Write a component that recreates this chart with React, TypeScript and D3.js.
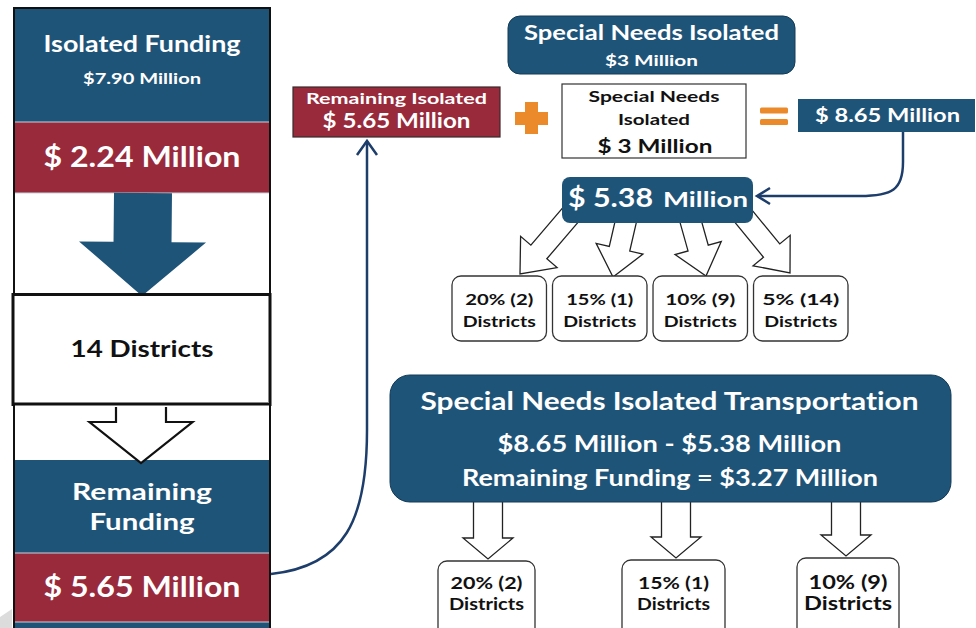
import React from "react";
import * as d3 from "d3";

// ---- content ----
const isolatedTitle = "Isolated Funding";
const isolatedTotal = "$7.90 Million";
const isolatedShare = "$ 2.24 Million";
const districtCount = "14 Districts";
const remainingTitle = ["Remaining", "Funding"];
const remainingFunding = "$ 5.65 Million";
const remainingIsolated = ["Remaining Isolated", "$ 5.65 Million"];
const specialNeedsTop = ["Special Needs Isolated", "$3 Million"];
const specialNeedsBox = ["Special Needs", "Isolated", "$ 3 Million"];
const combinedTotal = "$ 8.65 Million";
const allocated = ["$ 5.38", "Million"];
const transportLines = [
  "Special Needs Isolated Transportation",
  "$8.65 Million - $5.38 Million",
  "Remaining Funding = $3.27 Million",
];
const topPct = ["20%", "15%", "10%", "5%"];
const topCounts = [2, 1, 9, 14];
const bottomPct = ["20%", "15%", "10%"];
const bottomCounts = [2, 1, 9];

// ---- style / layout ----
const BLUE = "#1f5479";
const RED = "#982a3b";
const ORANGE = "#ea8a2b";
const LINE = "#1d3d6b";
const FONT = "Lato, 'Open Sans', 'DejaVu Sans', sans-serif";

type TP = { x: number; y: number; s: number; w?: number; fill?: string; children: React.ReactNode };
function T({ x, y, s, w, fill = "#fff", children }: TP) {
  return (
    <text
      x={x}
      y={y}
      fontSize={s}
      fontWeight={700}
      fontFamily={FONT}
      textAnchor="middle"
      fill={fill}
      textLength={w}
      lengthAdjust={w ? "spacingAndGlyphs" : undefined}
      style={{ fontVariantLigatures: "none", fontFeatureSettings: "'liga' 0, 'clig' 0" }}
    >
      {children}
    </text>
  );
}

const lineGen = d3.line<[number, number]>().curve(d3.curveLinearClosed);

function arrowPath(x0: number, y0: number, x1: number, y1: number, sw: number, hw: number, hl: number) {
  const dx = x1 - x0, dy = y1 - y0;
  const L = Math.hypot(dx, dy);
  const ux = dx / L, uy = dy / L;
  const px = -uy, py = ux;
  const bx = x1 - ux * hl, by = y1 - uy * hl;
  const pts: [number, number][] = [
    [x0 + (px * sw) / 2, y0 + (py * sw) / 2],
    [bx + (px * sw) / 2, by + (py * sw) / 2],
    [bx + (px * hw) / 2, by + (py * hw) / 2],
    [x1, y1],
    [bx - (px * hw) / 2, by - (py * hw) / 2],
    [bx - (px * sw) / 2, by - (py * sw) / 2],
    [x0 - (px * sw) / 2, y0 - (py * sw) / 2],
  ];
  return lineGen(pts) as string;
}

// top row of district boxes
const topBand = d3.scaleBand<number>().domain(d3.range(topPct.length)).range([452, 848]).paddingInner(0.06);
const topArrowStarts = [573, 628, 688, 740];
const topArrowTips: [number, number][] = [
  [520, 274],
  [613, 277],
  [706, 276],
  [790, 273],
];
const topTextW = [68, 67, 70, 77];

// bottom row
const bottomBoxes = [
  { x0: 438, x1: 535, y0: 561, s: 17, w1: 72, w2: 75 },
  { x0: 622, x1: 725, y0: 560, s: 17, w1: 71, w2: 73 },
  { x0: 797, x1: 899, y0: 558, s: 19, w1: 79, w2: 88 },
];
const bottomArrowX = [488, 676, 846];

export default function App() {
  const colL = 14, colR = 270, cx = 142;
  return (
    <svg
      width={976}
      height={628}
      viewBox="0 0 976 628"
      style={{ position: "absolute", left: 0, top: 0, background: "#fff" }}
    >
      <rect x={0} y={0} width={976} height={628} fill="#fff" />

      {/* ---------- left column ---------- */}
      <rect x={colL} y={8} width={colR - colL} height={114} fill={BLUE} />
      <rect x={colL} y={122} width={colR - colL} height={71} fill={RED} />
      <rect x={colL} y={460} width={colR - colL} height={93} fill={BLUE} />
      <rect x={colL} y={553} width={colR - colL} height={69} fill={RED} />
      <rect x={colL} y={622} width={colR - colL} height={10} fill={BLUE} />
      {[122, 193, 553, 622].map((y) => (
        <line key={y} x1={colL} x2={colR} y1={y} y2={y} stroke="#c8d2dc" strokeWidth={1.2} />
      ))}
      <rect x={colL} y={8} width={colR - colL} height={640} fill="none" stroke="#111" strokeWidth={2} />

      {/* filled arrow */}
      <path d={arrowPath(143, 193, 142, 296, 58, 127, 54)} fill={BLUE} />
      {/* 14 districts box */}
      <rect x={13} y={294.5} width={257} height={110} fill="#fff" stroke="#111" strokeWidth={3} />
      {/* outlined arrow */}
      <path d={arrowPath(141, 405, 141, 463, 50, 103, 41)} fill="#fff" stroke="#111" strokeWidth={2.2} strokeLinejoin="miter" />
      <rect x={colL + 1} y={402} width={colR - colL - 2} height={5} fill="#fff" />
      <line x1={13} x2={270} y1={404} y2={404} stroke="#111" strokeWidth={3} />

      <T x={cx} y={52} s={23} w={197}>{isolatedTitle}</T>
      <T x={cx} y={84} s={15} w={118}>{isolatedTotal}</T>
      <T x={cx} y={167} s={28} w={197}>{isolatedShare}</T>
      <T x={cx} y={357} s={23} w={143} fill="#111">{districtCount}</T>
      <T x={cx} y={500} s={23} w={140}>{remainingTitle[0]}</T>
      <T x={cx} y={530} s={23} w={105}>{remainingTitle[1]}</T>
      <T x={cx} y={597} s={28} w={197}>{remainingFunding}</T>

      {/* grey corner artifact */}
      <polygon points="0,628 0,617 12,609 12,628" fill="#dcdcdc" />

      {/* ---------- connector: remaining -> remaining isolated ---------- */}
      <path
        d="M 271 574 C 345 566, 367 520, 367 430 L 367 141"
        fill="none"
        stroke={LINE}
        strokeWidth={2.5}
      />
      <path d="M 357 155 L 367 141 L 377 155" fill="none" stroke={LINE} strokeWidth={2.5} />

      {/* Remaining isolated box */}
      <rect x={293} y={87} width={207} height={50} fill={RED} stroke="#3a2a2e" strokeWidth={1.2} />
      <T x={396.5} y={104} s={16} w={181}>{remainingIsolated[0]}</T>
      <T x={396.5} y={128} s={20} w={148}>{remainingIsolated[1]}</T>

      {/* plus */}
      <rect x={515} y={112} width={33} height={13} fill={ORANGE} />
      <rect x={525} y={102} width={13} height={32} fill={ORANGE} />

      {/* Special Needs Isolated top */}
      <rect x={508} y={16} width={287} height={58} rx={12} fill={BLUE} stroke="#123a56" strokeWidth={1} />
      <T x={651.5} y={40} s={21} w={255}>{specialNeedsTop[0]}</T>
      <T x={651.5} y={66} s={15} w={93}>{specialNeedsTop[1]}</T>

      {/* white box */}
      <rect x={562} y={84} width={184} height={74} fill="#fff" stroke="#333" strokeWidth={1.2} />
      <T x={654} y={102} s={16} w={131} fill="#111">{specialNeedsBox[0]}</T>
      <T x={654} y={125} s={16} w={72} fill="#111">{specialNeedsBox[1]}</T>
      <T x={655} y={153} s={19} w={115} fill="#111">{specialNeedsBox[2]}</T>

      {/* equals */}
      <rect x={760} y={107.5} width={28} height={6} rx={1.5} fill={ORANGE} />
      <rect x={760} y={119} width={28} height={6} rx={1.5} fill={ORANGE} />

      {/* 8.65 box */}
      <rect x={798} y={99} width={177} height={33} fill={BLUE} />
      <T x={887.5} y={122} s={19} w={145}>{combinedTotal}</T>

      {/* connector 8.65 -> 5.38 */}
      <path
        d="M 903 132 L 903 162 C 903 190, 892 196, 860 196 L 758 196"
        fill="none"
        stroke={LINE}
        strokeWidth={2.5}
      />
      <path d="M 770 188 L 757 196 L 770 204" fill="none" stroke={LINE} strokeWidth={2.5} />

      {/* diagonal arrows */}
      {topArrowTips.map(([tx, ty], i) => (
        <path
          key={i}
          d={arrowPath(topArrowStarts[i], 212, tx, ty, 21, 48, 29)}
          fill="#fff"
          stroke="#222"
          strokeWidth={1.3}
          strokeLinejoin="miter"
        />
      ))}

      {/* 5.38 box */}
      <rect x={562} y={177} width={191} height={46} rx={8} fill={BLUE} />
      <T x={610.5} y={207} s={26} w={85}>{allocated[0]}</T>
      <T x={705.5} y={207} s={20} w={85}>{allocated[1]}</T>

      {/* top district boxes */}
      {topPct.map((p, i) => {
        const x = topBand(i) as number;
        const bw = topBand.bandwidth();
        return (
          <g key={p}>
            <rect x={x} y={276} width={bw} height={65} rx={9} fill="#fff" stroke="#333" strokeWidth={1.3} />
            <T x={x + bw / 2} y={305} s={16} w={topTextW[i]} fill="#111">{`${p} (${topCounts[i]})`}</T>
            <T x={x + bw / 2} y={327} s={16} w={73} fill="#111">Districts</T>
          </g>
        );
      })}

      {/* bottom arrows */}
      {bottomArrowX.map((x, i) => (
        <path
          key={i}
          d={arrowPath(x, 495, x, bottomBoxes[i].y0 - 2, 29, 50, 21)}
          fill="#fff"
          stroke="#222"
          strokeWidth={1.3}
          strokeLinejoin="miter"
        />
      ))}

      {/* transportation box */}
      <rect x={390} y={375} width={561} height={127} rx={20} fill={BLUE} stroke="#123a56" strokeWidth={1} />
      <T x={669.5} y={410} s={24} w={498}>{transportLines[0]}</T>
      <T x={669.5} y={452} s={22} w={344}>{transportLines[1]}</T>
      <T x={670} y={486} s={22} w={416}>{transportLines[2]}</T>

      {/* bottom district boxes */}
      {bottomBoxes.map((b, i) => {
        const mid = (b.x0 + b.x1) / 2;
        return (
          <g key={i}>
            <rect x={b.x0} y={b.y0} width={b.x1 - b.x0} height={90} rx={9} fill="#fff" stroke="#333" strokeWidth={1.3} />
            <T x={mid} y={589} s={b.s} w={b.w1} fill="#111">{`${bottomPct[i]} (${bottomCounts[i]})`}</T>
            <T x={mid} y={610} s={b.s} w={b.w2} fill="#111">Districts</T>
          </g>
        );
      })}
    </svg>
  );
}
